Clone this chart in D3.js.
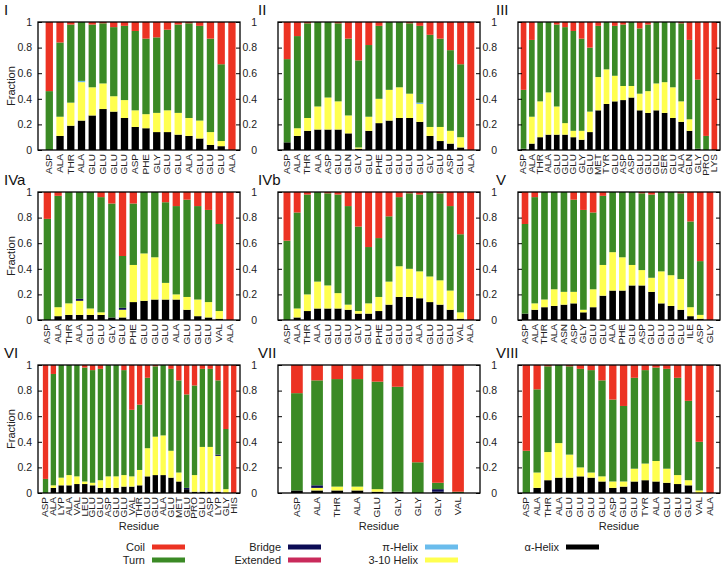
<!DOCTYPE html>
<html>
<head>
<meta charset="utf-8">
<script src="https://cdn.jsdelivr.net/npm/d3@7"></script>
<style>
  body { margin: 0; background: #fff; }
  svg { display: block; font-family: "Liberation Sans", Arial, Helvetica, sans-serif; }
</style>
</head>
<body>
<svg width="724" height="569"></svg>
<script>
// residue names and per-residue secondary structure fractions, one panel at a time

const residuesI = ["ASP","ALA","THR","ALA","GLU","GLU","GLU","GLU","ASP","PHE","GLY","GLU","GLU","ALA","GLU","GLU","GLU","ALA"];
const alphaI = [0, .11, .19, .23, .27, .32, .30, .25, .18, .17, .14, .14, .12, .11, .09, .04, .03, 0];
const h310I  = [0, .15, .18, .30, .22, .20, .12, .14, .13, .11, .15, .17, .17, .14, .14, .10, .04, 0];
const piI    = [0, 0, 0, .01, 0, 0, 0, 0, 0, 0, 0, 0, 0, 0, 0, 0, 0, 0];
const turnI  = [.46, .58, .61, .46, .49, .47, .54, .58, .62, .59, .59, .63, .69, .74, .74, .73, .60, 0];
const coilI  = [.54, .16, .02, 0, .02, .01, .04, .03, .07, .13, .12, .06, .02, .01, .03, .13, .33, 1];

const residuesII = ["ASP","ALA","THR","ALA","ASP","GLU","GLN","GLY","GLU","PHE","GLU","GLU","GLU","GLU","GLY","GLU","ASP","GLU","ALA"];
const alphaII = [.06, .11, .15, .16, .16, .16, .13, .01, .15, .21, .23, .25, .25, .22, .11, .07, .05, .02, 0];
const h310II  = [0, .06, .10, .18, .25, .22, .14, .01, .11, .19, .24, .24, .19, .14, .07, .11, .10, .08, 0];
const piII    = [0, 0, 0, 0, 0, 0, 0, 0, 0, 0, 0, 0, 0, .01, 0, 0, 0, 0, 0];
const turnII  = [.65, .72, .74, .66, .59, .61, .60, .68, .56, .57, .53, .51, .55, .60, .72, .69, .63, .57, 0];
const coilII  = [.29, .11, .01, 0, 0, .01, .13, .30, .18, .03, 0, 0, .01, .03, .10, .13, .22, .33, 1];

const residuesIII = ["ASP","ALA","THR","ALA","GLU","GLU","GLU","GLY","GLU","MET","TYR","GLU","ASP","ASP","GLU","GLU","GLU","SER","GLU","ALA","GLN","GLY","PRO","LYS"];
const alphaIII = [.01, .05, .10, .12, .12, .12, .10, .08, .14, .31, .36, .38, .39, .41, .31, .29, .31, .29, .25, .22, .15, .01, 0, 0];
const h310III  = [0, .21, .28, .33, .22, .09, .05, .07, .16, .26, .27, .20, .11, .09, .13, .17, .21, .24, .24, .16, .09, 0, 0, 0];
const turnIII  = [.46, .60, .62, .55, .64, .75, .78, .72, .50, .40, .37, .39, .48, .50, .51, .52, .48, .47, .51, .61, .62, .54, .11, 0];
const coilIII  = [.53, .14, 0, 0, .02, .04, .07, .13, .20, .03, 0, .03, .02, 0, .05, .02, 0, 0, 0, .01, .14, .45, .89, 1];

const residuesIVa = ["ASP","ALA","THR","ALA","GLU","GLU","GLY","GLU","PHE","GLU","GLU","GLU","ALA","GLU","GLU","GLU","VAL","ALA"];
const alphaIVa  = [0, .03, .04, .04, .04, .04, .02, .02, .14, .15, .16, .16, .16, .08, .03, .02, .01, 0];
const h310IVa   = [0, .07, .09, .11, .05, .02, 0, .06, .29, .37, .33, .13, .04, .10, .13, .12, .06, 0];
const bridgeIVa = [0, 0, 0, .015, 0, 0, 0, .015, 0, 0, 0, 0, 0, 0, 0, 0, 0, 0];
const turnIVa   = [.79, .87, .87, .835, .91, .90, .89, .405, .48, .48, .51, .63, .69, .76, .73, .72, .68, 0];
const coilIVa   = [.21, .03, 0, 0, 0, .04, .09, .50, .09, 0, 0, .08, .11, .06, .11, .14, .25, 1];

const residuesIVb = ["ASP","ALA","THR","ALA","GLU","GLU","GLU","GLY","GLU","PHE","GLU","GLU","GLU","ALA","GLU","GLU","GLU","VAL","ALA"];
const alphaIVb = [0, .02, .07, .09, .09, .09, .08, .05, .05, .07, .12, .18, .18, .17, .14, .12, .08, .01, 0];
const h310IVb  = [0, .07, .13, .21, .18, .12, .04, .02, .08, .11, .18, .24, .22, .21, .20, .19, .15, .05, 0];
const turnIVb  = [.62, .75, .78, .70, .72, .77, .77, .66, .44, .46, .51, .54, .59, .60, .66, .68, .66, .61, 0];
const coilIVb  = [.38, .16, .02, 0, .01, .02, .11, .27, .43, .36, .19, .04, .01, .02, 0, .01, .11, .33, 1];

const residuesV = ["ASP","ALA","THR","ALA","ASN","ASP","GLY","GLU","GLU","ALA","PHE","GLU","ASP","GLU","GLU","GLU","GLU","ILE","ASP","GLY"];
const alphaV = [.05, .08, .10, .11, .12, .13, .06, .10, .19, .23, .23, .27, .27, .22, .13, .11, .08, .03, .01, 0];
const h310V  = [0, .05, .06, .13, .10, .09, .02, .14, .24, .30, .26, .16, .12, .11, .25, .24, .24, .07, .03, 0];
const turnV  = [.70, .83, .84, .76, .78, .72, .78, .60, .54, .47, .51, .57, .60, .65, .62, .65, .67, .67, .42, 0];
const coilV  = [.25, .04, 0, 0, 0, .06, .14, .16, .03, 0, 0, 0, .01, .02, 0, 0, .01, .23, .54, 1];

const residuesVI = ["ASP","ALA","LYP","ALA","VAL","LEU","GLU","GLU","ASP","GLU","GLU","VAL","THR","GLU","GLU","ALA","GLU","MET","GLU","PRO","GLU","ASP","LYP","GLY","HIS"];
const alphaVI  = [0, .04, .06, .06, .07, .07, .06, .04, .04, .04, .05, .05, .06, .13, .14, .14, .12, .09, .03, .01, .01, .01, .01, 0, 0];
const h310VI   = [0, .02, .06, .08, .06, .02, .02, .06, .09, .09, .09, .08, .12, .22, .30, .31, .21, .07, 0, .13, .35, .35, .28, .03, 0];
const bridgeVI = [0, 0, 0, 0, 0, 0, 0, 0, 0, 0, 0, 0, 0, 0, 0, 0, 0, 0, .01, 0, 0, 0, .01, 0, 0];
const turnVI   = [.11, .87, .88, .86, .87, .89, .88, .87, .87, .87, .82, .52, .51, .55, .55, .55, .64, .72, .73, .70, .61, .61, .58, .47, 0];
const coilVI   = [.89, .07, 0, 0, 0, .02, .04, .03, 0, 0, .04, .35, .31, .10, .01, 0, .03, .12, .23, .16, .03, .03, .12, .50, 1];

const residuesVII = ["ASP","ALA","THR","ALA","GLU","GLY","GLY","GLY","VAL"];
const alphaVII  = [.02, .02, .02, .02, .01, .01, 0, .01, 0];
const h310VII   = [0, .02, .03, .03, .02, 0, 0, 0, 0];
const bridgeVII = [0, .02, 0, 0, 0, 0, 0, .02, 0];
const turnVII   = [.76, .82, .84, .84, .84, .82, .24, .05, .01];
const coilVII   = [.22, .12, .11, .11, .13, .17, .76, .92, .99];

const residuesVIII = ["ASP","ALA","THR","ALA","GLU","GLU","GLU","GLU","ASP","GLU","GLU","TYR","ALA","GLU","GLU","GLU","VAL","ALA"];
const alphaVIII = [0, .04, .10, .12, .12, .13, .12, .09, .04, .05, .09, .10, .09, .08, .07, .06, 0, 0];
const h310VIII  = [0, .12, .22, .27, .18, .07, .04, .04, .05, .04, .10, .13, .16, .11, .07, .04, .02, 0];
const turnVIII  = [.33, .65, .67, .61, .69, .77, .80, .75, .64, .59, .71, .73, .73, .78, .76, .62, .38, 0];
const coilVIII  = [.67, .19, .01, 0, .01, .03, .04, .12, .27, .32, .10, .04, .02, .03, .10, .28, .60, 1];

const yTicks = [0, 0.2, 0.4, 0.6, 0.8, 1];

// bottom -> top stacking order
const keys = ["alpha", "h310", "pi", "extended", "bridge", "turn", "coil"];

const colors = {
    coil: "#ec3323",
    turn: "#3b8a25",
    bridge: "#0c0c55",
    extended: "#c92a5b",
    pi: "#6abcec",
    h310: "#ffff50",
    alpha: "#000000"
};

let legendCols = [
    [["coil", "Coil"], ["turn", "Turn"]],
    [["bridge", "Bridge"], ["extended", "Extended"]],
    [["pi", "\u03c0-Helix"], ["h310", "3-10 Helix"]],
    [["alpha", "\u03b1-Helix"]]
];

let panels = [
    {name: "I",    col: 0, row: 0, residues: residuesI,    alpha: alphaI,    h310: h310I,    pi: piI,  turn: turnI,    coil: coilI,    pad: [1.05, 0.75]},
    {name: "II",   col: 1, row: 0, residues: residuesII,   alpha: alphaII,   h310: h310II,   pi: piII, turn: turnII,   coil: coilII,   pad: [0.9, 0.9]},
    {name: "III",  col: 2, row: 0, residues: residuesIII,  alpha: alphaIII,  h310: h310III,  turn: turnIII,  coil: coilIII,  pad: [0.67, 0.68]},
    {name: "IVa",  col: 0, row: 1, residues: residuesIVa,  alpha: alphaIVa,  h310: h310IVa,  bridge: bridgeIVa, turn: turnIVa, coil: coilIVa, pad: [0.87, 0.93]},
    {name: "IVb",  col: 1, row: 1, residues: residuesIVb,  alpha: alphaIVb,  h310: h310IVb,  turn: turnIVb,  coil: coilIVb,  pad: [0.88, 0.92]},
    {name: "V",    col: 2, row: 1, residues: residuesV,    alpha: alphaV,    h310: h310V,    turn: turnV,    coil: coilV,    pad: [0.72, 1.03]},
    {name: "VI",   col: 0, row: 2, residues: residuesVI,   alpha: alphaVI,   h310: h310VI,   bridge: bridgeVI, turn: turnVI, coil: coilVI, pad: [0.96, 0.8]},
    {name: "VII",  col: 1, row: 2, residues: residuesVII,  alpha: alphaVII,  h310: h310VII,  bridge: bridgeVII, turn: turnVII, coil: coilVII, pad: [0.94, 1.09], bw: 0.58},
    {name: "VIII", col: 2, row: 2, residues: residuesVIII, alpha: alphaVIII, h310: h310VIII, turn: turnVIII, coil: coilVIII, pad: [0.77, 0.92]}
];

let colLeft = [38, 278, 518],
    rowTop = [22, 192, 365],
    labelX = [4, 258, 496],
    plotW = 202,
    plotH = 128;

let svg = d3.select("svg");

panels.forEach(p => {
    let left = colLeft[p.col],
        top = rowTop[p.row],
        n = p.residues.length;

    let x = d3.scaleLinear()
        .domain([-p.pad[0], n - 1 + p.pad[1]])
        .range([left, left + plotW]);

    let y = d3.scaleLinear()
        .domain([0, 1])
        .range([top + plotH, top]);

    let bw = (x(1) - x(0)) * (p.bw || 0.68);

    let rows = p.residues.map((r, i) => {
        let o = {i: i, residue: r};
        keys.forEach(k => o[k] = p[k] ? p[k][i] : 0);
        return o;
    });

    let stacked = d3.stack().keys(keys)(rows);

    let g = svg.append("g");

    g.selectAll("g.layer")
        .data(stacked)
        .enter()
        .append("g")
        .attr("class", "layer")
        .attr("fill", s => colors[s.key])
        .selectAll("rect")
        .data(s => s)
        .enter()
        .append("rect")
        .attr("x", d => x(d.data.i) - bw / 2)
        .attr("width", bw)
        .attr("y", d => y(Math.min(1, d[1])))
        .attr("height", d => Math.max(0, y(Math.min(1, d[0])) - y(Math.min(1, d[1]))));

    // y axis with inward ticks, mirrored on the right
    let yAxis = g.append("g")
        .attr("transform", `translate(${left},0)`)
        .call(d3.axisLeft(y).tickValues(yTicks).tickFormat(d3.format("~g"))
            .tickSizeInner(-4).tickSizeOuter(0).tickPadding(p.col == 0 ? 6 : 21));
    yAxis.select(".domain").remove();
    yAxis.selectAll("text")
        .attr("font-size", 10.5)
        .attr("font-family", null)
        .attr("fill", "#222");

    let yRight = g.append("g")
        .attr("transform", `translate(${left + plotW},0)`)
        .call(d3.axisRight(y).tickValues(yTicks).tickFormat("").tickSizeInner(-4).tickSizeOuter(0));
    yRight.select(".domain").remove();

    g.append("rect")
        .attr("x", left)
        .attr("y", top)
        .attr("width", plotW)
        .attr("height", plotH)
        .attr("fill", "none")
        .attr("stroke", "#000")
        .attr("stroke-width", 1.3);

    // residue labels, rotated and a bit condensed
    g.selectAll("text.res")
        .data(rows)
        .enter()
        .append("text")
        .attr("class", "res")
        .attr("transform", d => `translate(${x(d.i)},${top + plotH + 4}) rotate(-90) scale(1,0.82)`)
        .attr("dy", "0.35em")
        .attr("text-anchor", "end")
        .attr("font-size", 10)
        .attr("fill", "#222")
        .text(d => d.residue);

    g.append("text")
        .attr("x", labelX[p.col])
        .attr("y", top - 7)
        .attr("font-size", 15)
        .attr("fill", "#111")
        .text(p.name);

    if (p.col == 0) {
        g.append("text")
            .attr("transform", `translate(11,${top + plotH / 2}) rotate(-90)`)
            .attr("dy", "0.35em")
            .attr("text-anchor", "middle")
            .attr("font-size", 11)
            .attr("fill", "#222")
            .text("Fraction");
    }

    if (p.row == 2) {
        g.append("text")
            .attr("x", left + plotW / 2)
            .attr("y", 530)
            .attr("text-anchor", "middle")
            .attr("font-size", 11)
            .attr("fill", "#222")
            .text("Residue");
    }
});

// legend
let legendTextX = [145, 281, 418, 559],
    legendRowY = [547, 560];

let legend = svg.append("g");

legendCols.forEach((col, ci) => {
    col.forEach((item, ri) => {
        let cy = legendRowY[ri];
        legend.append("text")
            .attr("x", legendTextX[ci])
            .attr("y", cy)
            .attr("dy", "0.35em")
            .attr("text-anchor", "end")
            .attr("font-size", 11)
            .attr("fill", "#222")
            .text(item[1]);
        legend.append("rect")
            .attr("x", legendTextX[ci] + 7)
            .attr("y", cy - 2.5)
            .attr("width", 33)
            .attr("height", 5)
            .attr("fill", colors[item[0]]);
    });
});
</script>
</body>
</html>
